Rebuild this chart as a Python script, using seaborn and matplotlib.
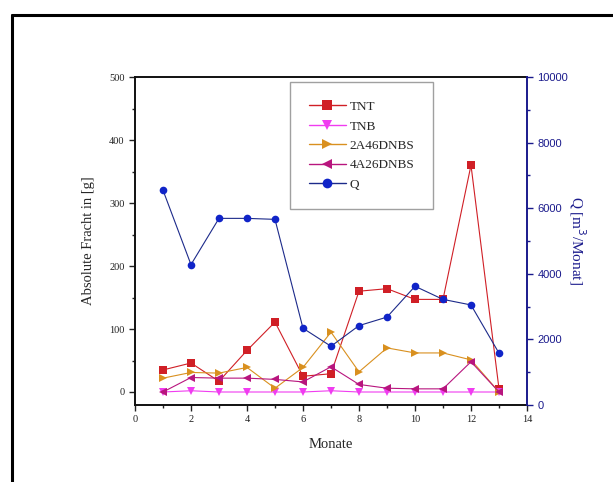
import matplotlib
matplotlib.use("Agg")
import matplotlib.pyplot as plt
import seaborn as sns
import pandas as pd
from matplotlib.ticker import MultipleLocator
from matplotlib.lines import Line2D

months = [1, 2, 3, 4, 5, 6, 7, 8, 9, 10, 11, 12, 13]
tnt = [35, 46, 17, 66, 111, 25, 29, 160, 164, 147, 147, 360, 5]
tnb = [0, 2, 0, 0, 0, 0, 2, 0, 0, 0, 0, 0, 0]
a2_46dnbs = [22, 31, 30, 39, 6, 39, 95, 32, 70, 62, 62, 51, 0]
a4_26dnbs = [0, 23, 22, 22, 20, 16, 40, 12, 6, 5, 5, 48, 0]
q = [6550, 4280, 5690, 5690, 5660, 2340, 1790, 2420, 2680, 3620, 3220, 3050, 1580]

series_names = ["TNT", "TNB", "2A46DNBS", "4A26DNBS"]
series_vals = [tnt, tnb, a2_46dnbs, a4_26dnbs]
colors = ["#d01f26", "#f03cf0", "#d9901f", "#b8157e"]
markers = ["s", "v", ">", "<"]
q_color = "#1024c8"
q_line = "#1c2a8a"
axis_blue = "#1a1a8c"

sns.set_style("ticks")
plt.rcParams["font.family"] = ["Liberation Serif", "DejaVu Serif"]

fig = plt.figure(figsize=(6.13, 4.82), dpi=100)
ax = fig.add_axes([0.2202, 0.1598, 0.6395, 0.6804])

handles = []
for name, vals, c, m in zip(series_names, series_vals, colors, markers):
    df = pd.DataFrame({"Monate": months, "val": vals})
    sns.lineplot(data=df, x="Monate", y="val", ax=ax, color=c, marker=m,
                 markersize=5.5, markeredgewidth=0, linewidth=0.8)
    handles.append(Line2D([], [], color=c, marker=m, markersize=7,
                          markeredgewidth=0, linewidth=1.0, label=name))

ax2 = ax.twinx()
dq = pd.DataFrame({"Monate": months, "Q": q})
sns.lineplot(data=dq, x="Monate", y="Q", ax=ax2, color=q_line, marker="o",
             markersize=5.5, markerfacecolor=q_color, markeredgewidth=0, linewidth=0.8)
handles.append(Line2D([], [], color=q_line, marker="o", markersize=7,
                      markerfacecolor=q_color, markeredgewidth=0, linewidth=1.0, label="Q"))

ax.set_xlim(0, 14)
ax.set_ylim(-20.6, 500)
ax2.set_ylim(0, 10000)

ax.xaxis.set_major_locator(MultipleLocator(2))
ax.xaxis.set_minor_locator(MultipleLocator(1))
ax.yaxis.set_major_locator(MultipleLocator(100))
ax.yaxis.set_minor_locator(MultipleLocator(50))
ax2.yaxis.set_major_locator(MultipleLocator(2000))
ax2.yaxis.set_minor_locator(MultipleLocator(1000))

ax.tick_params(axis="both", which="major", direction="out", length=4, width=1,
               labelsize=7.5, colors="#222222")
ax.tick_params(axis="both", which="minor", direction="out", length=2.5, width=1,
               colors="#222222")
ax.tick_params(axis="x", which="both", top=False)
ax2.tick_params(axis="y", which="major", direction="out", length=4, width=1,
                labelsize=8, colors=axis_blue)
ax2.tick_params(axis="y", which="minor", direction="out", length=2.5, width=1,
                colors=axis_blue)
for lab in ax2.get_yticklabels():
    lab.set_fontfamily(["Liberation Sans", "DejaVu Sans"])

for s in ["left", "bottom", "top"]:
    ax.spines[s].set_visible(True)
    ax.spines[s].set_linewidth(1.4)
    ax.spines[s].set_color("#111111")
ax.spines["right"].set_visible(False)
ax2.spines["right"].set_color(axis_blue)
ax2.spines["right"].set_linewidth(1.4)
ax2.spines["top"].set_visible(False)
ax2.spines["left"].set_visible(False)
ax2.spines["bottom"].set_visible(False)

ax.set_xlabel("Monate", fontsize=10.5, labelpad=10)
ax.set_ylabel("Absolute Fracht in [g]", fontsize=10.5, labelpad=10)
ax2.set_ylabel("Q [m$^3$/Monat]", fontsize=11, color=axis_blue, rotation=270,
               labelpad=14)

leg = ax.legend(handles=handles, loc="upper left", bbox_to_anchor=(0.383, 1.0),
                fontsize=9.5, frameon=True, fancybox=False, borderpad=1.4,
                labelspacing=0.55, handlelength=2.8, handletextpad=0.3,
                borderaxespad=0.4)
leg.get_frame().set_edgecolor("#888888")
leg.get_frame().set_linewidth(1.0)

# outer frame lines (left and top)
fig.add_artist(Line2D([12 / 613, 12 / 613], [0, 1 - 15 / 482], transform=fig.transFigure,
                      color="black", linewidth=2.2))
fig.add_artist(Line2D([12 / 613, 1], [1 - 15 / 482, 1 - 15 / 482], transform=fig.transFigure,
                      color="black", linewidth=2.2))

fig.savefig("out.png", dpi=100)
